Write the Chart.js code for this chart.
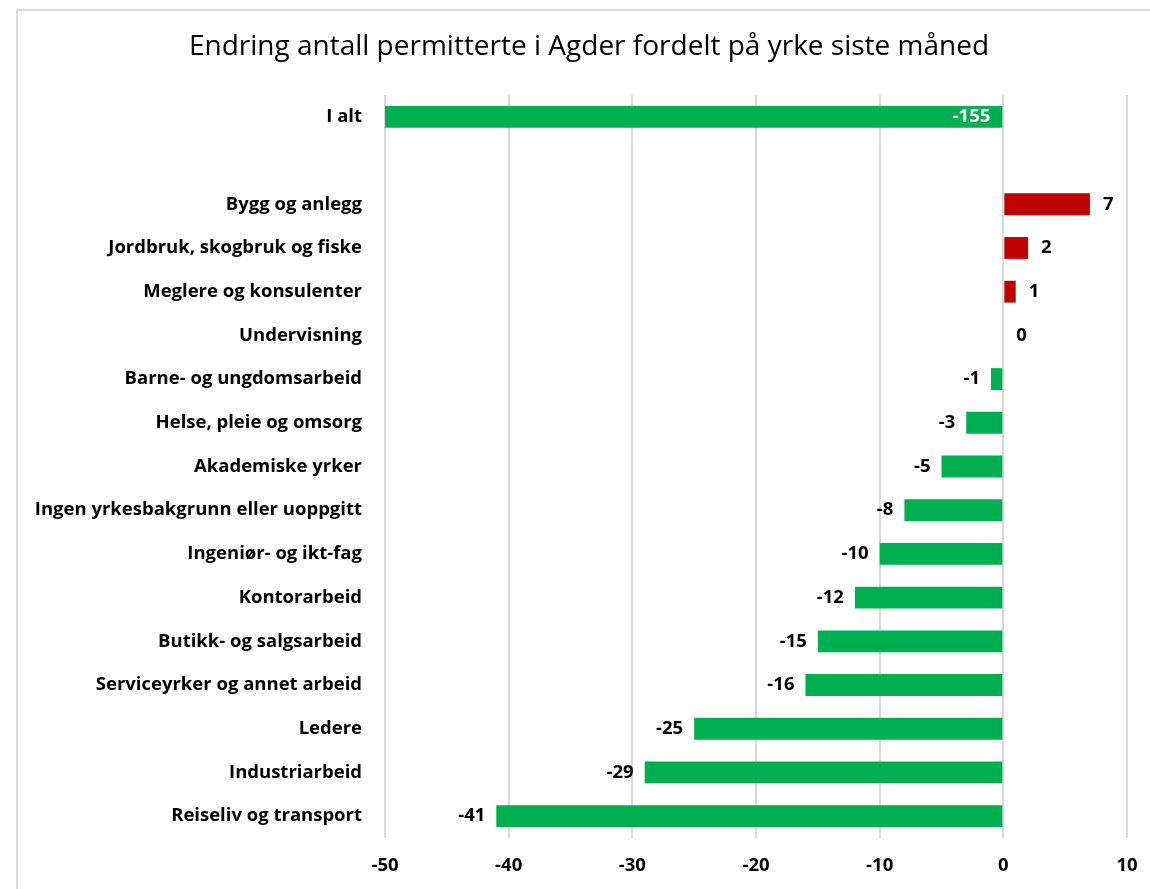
<!DOCTYPE html>
<html>
<head>
<meta charset="utf-8">
<script src="https://cdn.jsdelivr.net/npm/chart.js@4"></script>
<style>
  html, body { margin: 0; padding: 0; background: #fff; }
  #wrap { position: relative; width: 1150px; height: 889px; }
  #frame { position: absolute; left: 16px; top: 9px; width: 1200px; height: 1000px;
           border: 2px solid #d9d9d9; box-sizing: border-box; }
  canvas { position: absolute; left: 0; top: 0; }
</style>
</head>
<body>
<div id="wrap">
  <div id="frame"></div>
  <canvas id="chart" width="1150" height="889"></canvas>
</div>
<script>
// Data
const categories = [
    'I alt', '',
    'Bygg og anlegg', 'Jordbruk, skogbruk og fiske', 'Meglere og konsulenter',
    'Undervisning', 'Barne- og ungdomsarbeid', 'Helse, pleie og omsorg',
    'Akademiske yrker', 'Ingen yrkesbakgrunn eller uoppgitt', 'Ingeniør- og ikt-fag',
    'Kontorarbeid', 'Butikk- og salgsarbeid', 'Serviceyrker og annet arbeid',
    'Ledere', 'Industriarbeid', 'Reiseliv og transport'
];
const changes = [-155, null, 7, 2, 1, 0, -1, -3, -5, -8, -10, -12, -15, -16, -25, -29, -41];
const xTicks = [-50, -40, -30, -20, -10, 0, 10];
const chartTitle = 'Endring antall permitterte i Agder fordelt på yrke siste måned';

const GREEN = '#00B050';
const RED = '#C00000';
const FONT = '"Open Sans", Lato, sans-serif';
const LABEL_SIZE = 18.5;

// title centred over the framed chart (frame starts at x=16)
const titlePlugin = {
    id: 'frameTitle',
    afterDraw(chart) {
        const ctx = chart.ctx;
        ctx.save();
        ctx.font = '28px ' + FONT;
        ctx.fillStyle = '#000';
        ctx.textAlign = 'center';
        ctx.textBaseline = 'middle';
        ctx.fillText(chartTitle, 589, 47);
        ctx.restore();
    }
};

// value labels next to / inside the bars
const valueLabels = {
    id: 'valueLabels',
    afterDatasetsDraw(chart) {
        const ctx = chart.ctx;
        const meta = chart.getDatasetMeta(0);
        const area = chart.chartArea;
        ctx.save();
        ctx.font = 'bold ' + LABEL_SIZE + 'px ' + FONT;
        ctx.textBaseline = 'middle';
        meta.data.forEach((bar, i) => {
            const v = changes[i];
            if (v === null) return;
            const txt = String(v);
            if (bar.x < area.left) {
                // clipped bar: label inside near the base
                ctx.fillStyle = '#fff';
                ctx.textAlign = 'right';
                ctx.fillText(txt, bar.base - 12, bar.y);
            } else if (v < 0) {
                ctx.fillStyle = '#000';
                ctx.textAlign = 'right';
                ctx.fillText(txt, bar.x - 11, bar.y);
            } else {
                ctx.fillStyle = '#000';
                ctx.textAlign = 'left';
                ctx.fillText(txt, bar.x + 13, bar.y);
            }
        });
        ctx.restore();
    }
};

new Chart(document.getElementById('chart'), {
    type: 'bar',
    data: {
        labels: categories,
        datasets: [{
            data: changes,
            backgroundColor: changes.map(v => v > 0 ? RED : GREEN),
            borderWidth: 0,
            barPercentage: 0.5,
            categoryPercentage: 1
        }]
    },
    options: {
        indexAxis: 'y',
        responsive: false,
        animation: false,
        layout: { padding: { left: 0, right: 23, top: 95, bottom: 0 } },
        plugins: {
            legend: { display: false },
            tooltip: { enabled: false },
            title: { display: false }
        },
        scales: {
            x: {
                min: -50,
                max: 10,
                afterBuildTicks: s => { s.ticks = xTicks.map(v => ({ value: v })); },
                afterFit: s => { s.height = 51; s.paddingLeft = 0; s.paddingRight = 0; },
                grid: { color: '#d9d9d9', lineWidth: 2, drawTicks: false },
                border: { display: false },
                ticks: {
                    color: '#000',
                    padding: 17,
                    maxRotation: 0,
                    font: { family: FONT, size: LABEL_SIZE, weight: 'bold' }
                }
            },
            y: {
                afterFit: s => { s.width = 385; s.paddingTop = 0; s.paddingBottom = 0; },
                grid: { display: false },
                border: { display: false },
                ticks: {
                    color: '#000',
                    padding: 15,
                    font: { family: FONT, size: LABEL_SIZE, weight: 'bold' }
                }
            }
        }
    },
    plugins: [valueLabels, titlePlugin]
});
</script>
</body>
</html>
